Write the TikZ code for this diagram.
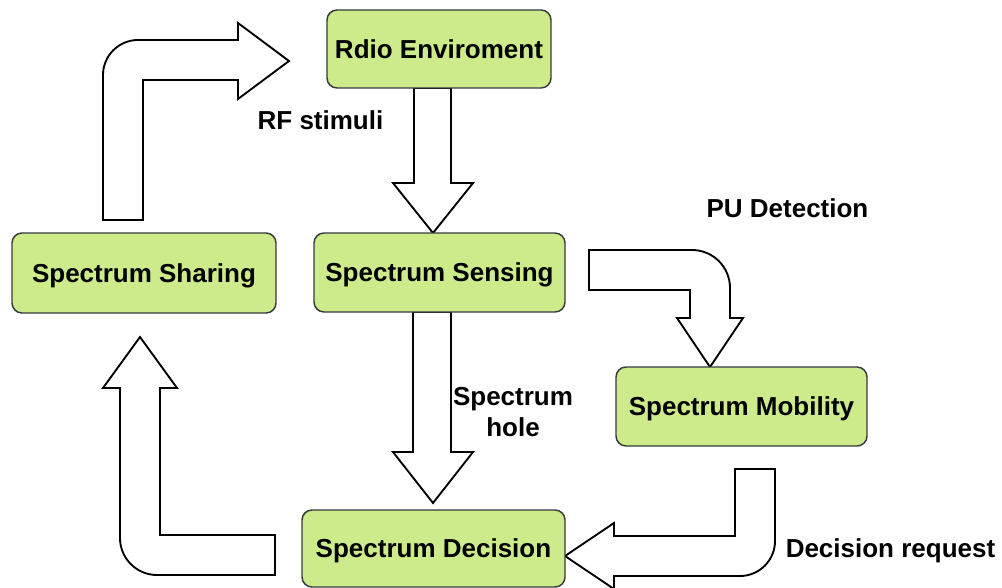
\documentclass[tikz,border=0pt]{standalone}
\usepackage{fontspec}
\setmainfont{Liberation Sans}
\usetikzlibrary{backgrounds}

\definecolor{boxfill}{HTML}{CDEB8B}
\definecolor{boxline}{HTML}{36393D}

\tikzset{
  lbl/.style={font=\fontsize{19.5}{23.25}\selectfont\bfseries, inner sep=0pt, text=black},
  stage/.style={lbl, draw=boxline, fill=boxfill, line width=1.1pt,
    rounded corners=7.5pt, text height=14pt, text depth=0pt},
  blockarrow/.style={draw=black, fill=white, line width=1.4pt, line join=miter}
}

\begin{document}
\begin{tikzpicture}[x=0.75pt, y=-0.75pt]
\useasboundingbox (0,0) rectangle (1002,588);

% stages of the cognitive cycle
\node[stage, minimum width=224*0.75pt, minimum height=78*0.75pt] (radio)    at (439,49)    {Rdio Enviroment};
\node[stage, minimum width=251*0.75pt, minimum height=79*0.75pt] (sensing)  at (439.5,272.5) {Spectrum Sensing};
\node[stage, minimum width=264*0.75pt, minimum height=80*0.75pt] (sharing)  at (144,273)   {Spectrum Sharing};
\node[stage, minimum width=251*0.75pt, minimum height=79*0.75pt] (mobility) at (741.5,406.5) {Spectrum Mobility};
\node[stage, minimum width=263*0.75pt, minimum height=77*0.75pt] (decision) at (433.5,548.5) {Spectrum Decision};

% labels
\node[lbl, anchor=base] (rf)  at (320.5,130) {RF stimuli};
\node[lbl, anchor=base] (pu)  at (787.5,217) {PU Detection};
\node[lbl, align=center] (hole) at (513,412) {Spectrum\\hole};
\node[lbl, anchor=base] (req) at (890.5,557) {Decision request};

\begin{scope}[on background layer]
% sharing -> radio environment
\draw[blockarrow] (143,220) -- (103,220) -- (103,75)
  .. controls (103,55.7) and (118.7,40) .. (138,40)
  -- (238,40) -- (238,23) -- (289,61) -- (238,99) -- (238,80) -- (143,80) -- cycle;
% radio environment -> sensing
\draw[blockarrow] (414,88) -- (451,88) -- (451,183) -- (473,183) -- (433,233)
  -- (393,183) -- (414,183) -- cycle;
% sensing -> decision
\draw[blockarrow] (413,312) -- (451,312) -- (451,452) -- (473,452) -- (433,503)
  -- (393,452) -- (413,452) -- cycle;
% sensing -> mobility
\draw[blockarrow] (589,250) -- (692,250)
  .. controls (713,250) and (730,267) .. (730,288)
  -- (730,318) -- (743,318) -- (710,367) -- (677,318) -- (690,318) -- (690,290)
  -- (589,290) -- cycle;
% mobility -> decision
\draw[blockarrow] (735,469) -- (775,469) -- (775,541)
  .. controls (775,560.3) and (759.3,576) .. (740,576)
  -- (614,576) -- (614,589) -- (565,556) -- (614,523) -- (614,536) -- (735,536) -- cycle;
% decision -> sharing
\draw[blockarrow] (275,535) -- (275,575) -- (157,575)
  .. controls (136.6,575) and (120,558.4) .. (120,538)
  -- (120,388) -- (103,388) -- (140,337) -- (177,388) -- (160,388) -- (160,535) -- cycle;
\end{scope}
\end{tikzpicture}
\end{document}
